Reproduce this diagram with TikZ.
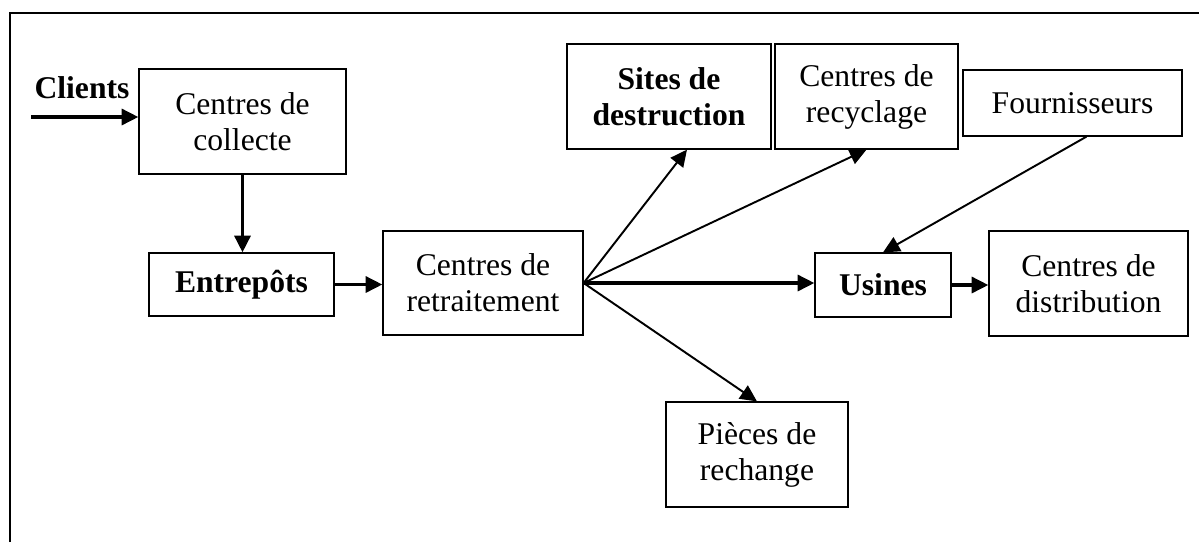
\documentclass[tikz,border=0pt]{standalone}
\usepackage{fontspec}
\setmainfont{Liberation Serif}
\usetikzlibrary{arrows.meta,calc}
\tikzset{
  site/.style 2 args={draw,line width=0.7pt,align=center,inner sep=0pt,
    minimum width=#1cm,minimum height=#2cm,
    font=\fontsize{18}{20.5}\selectfont},
  flow/.style={line width=2pt},
  link/.style={line width=1.1pt}
}

\begin{document}
\begin{tikzpicture}[x=0.02cm,y=-0.02cm,
% one filled head for every arrow
-{Triangle[length=9.5pt,width=9pt]}]
\useasboundingbox (0,0) rectangle (1199,542);
\draw[-,line width=1.2pt] (10,542) -- (10,13) -- (1199,13);

\node[font=\fontsize{18}{20.5}\selectfont\bfseries] (clients) at (82,88) {Clients};
\node[site={4.14}{2.1}] (collecte) at (242.5,121.5) {Centres de\\collecte};
\node[site={3.7}{1.26}] (entrepots) at (241.5,284.5) {\textbf{Entrepôts}};
\node[site={4.0}{2.08}] (retraitement) at (483,283) {Centres de\\retraitement};
\node[site={4.08}{2.1}] (destruction) at (669,96.5) {\textbf{Sites de}\\\textbf{destruction}};
\node[site={3.66}{2.1}] (recyclage) at (866.5,96.5) {Centres de\\recyclage};
\node[site={4.38}{1.32}] (fournisseurs) at (1072.5,103) {Fournisseurs};
\node[site={2.72}{1.28}] (usines) at (883,285) {\textbf{Usines}};
\node[site={3.98}{2.1}] (distribution) at (1088.5,283.5) {Centres de\\distribution};
\node[site={3.64}{2.1}] (pieces) at (757,454.5) {Pièces de\\rechange};

\coordinate (entree) at (31,117);
\draw[flow] (entree) -- (entree -| collecte.west);
\draw[flow] (collecte.south) -- (collecte.south |- entrepots.north);
\draw[flow] (entrepots.east) -- (entrepots.east -| retraitement.west);
\draw[flow] (retraitement.east) -- (retraitement.east -| usines.west);
\draw[flow] (usines.east) -- (usines.east -| distribution.west);

\draw[link] (retraitement.east) -- ($(destruction.south)+(18,0)$);
\draw[link] (retraitement.east) -- (recyclage.south);
\draw[link] (retraitement.east) -- (pieces.north);
\draw[link] ($(fournisseurs.south)+(14,0)$) -- (usines.north);
\end{tikzpicture}
\end{document}
